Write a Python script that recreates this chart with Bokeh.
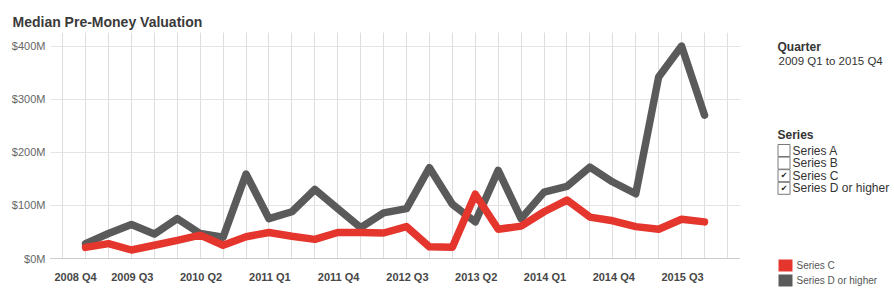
from bokeh.plotting import figure
from bokeh.models import Range1d, FixedTicker, PrintfTickFormatter, ColumnDataSource
from bokeh.embed import file_html
from bokeh.resources import INLINE
from bokeh.core.properties import value

# ---------------- data ----------------
quarters = ["2008 Q4",
            "2009 Q1", "2009 Q2", "2009 Q3", "2009 Q4",
            "2010 Q1", "2010 Q2", "2010 Q3", "2010 Q4",
            "2011 Q1", "2011 Q2", "2011 Q3", "2011 Q4",
            "2012 Q1", "2012 Q2", "2012 Q3", "2012 Q4",
            "2013 Q1", "2013 Q2", "2013 Q3", "2013 Q4",
            "2014 Q1", "2014 Q2", "2014 Q3", "2014 Q4",
            "2015 Q1", "2015 Q2", "2015 Q3"]
# Median pre-money valuation, $M
series_c = [21, 28, 16, 25, 34, 44, 25, 41, 49, 42, 36, 49, 49, 48, 60, 22,
            21, 121, 55, 61, 88, 110, 78, 71, 60, 55, 74, 69]
series_d = [28, 47, 64, 46, 75, 47, 40, 159, 75, 88, 130, 94, 58, 86, 94, 171,
            102, 69, 166, 75, 125, 136, 172, 144, 122, 342, 400, 270]
y_ticks = [0, 100, 200, 300, 400]
label_step = 3
series_names = ["Series A", "Series B", "Series C", "Series D or higher"]
series_checked = [False, False, True, True]
legend_names = ["Series C", "Series D or higher"]
quarter_filter = "2009 Q1 to 2015 Q4"
title_text = "Median Pre-Money Valuation"

RED = "#e5362e"
GRAY = "#5a5a5a"
FONT = "Liberation Sans"

# frame geometry (pixels)
W, H = 894, 301
FL, FR, FT, FB = 50, 740, 32, 258
X0, X1 = -1.53, 28.57

x = list(range(len(quarters)))
src = ColumnDataSource(dict(x=x, c=series_c, d=series_d))

p = figure(width=W, height=H, output_backend="svg", toolbar_location=None,
           x_range=Range1d(X0, X1), y_range=Range1d(0, 425.6),
           min_border_left=FL, min_border_right=W - FR, min_border_top=FT,
           min_border_bottom=H - FB)
p.outline_line_color = None
p.background_fill_color = "white"
p.border_fill_color = "white"

p.title.text = title_text
p.title.text_font = FONT
p.title.text_font_size = "14px"
p.title.text_font_style = "bold"
p.title.text_color = "#3a3a3a"
p.title.offset = -38
p.title.standoff = 5

p.line("x", "d", source=src, line_color=GRAY, line_width=7.5,
       line_join="round", line_cap="round")
p.line("x", "c", source=src, line_color=RED, line_width=7.5,
       line_join="round", line_cap="round")

# grid: one vertical line per quarter
grid_ticker = FixedTicker(ticks=x, minor_ticks=list(range(-1, len(quarters) + 1)))
p.xgrid.ticker = grid_ticker
p.xgrid.grid_line_color = "#dedede"
p.xgrid.minor_grid_line_color = "#dedede"
p.ygrid.ticker = FixedTicker(ticks=[t for t in y_ticks if t > 0])
p.ygrid.grid_line_color = "#e4e4e4"

# x labels end at their quarter (right-aligned look); first one kept inside
px_per_q = (FR - FL) / (X1 - X0)
half_w = 22.0 / px_per_q
min_center = X0 + (3.0 / px_per_q) + half_w
major = x[::label_step]
label_pos = [max(i - half_w, min_center) for i in major]
xa = p.xaxis[0]
xa.ticker = FixedTicker(ticks=label_pos, minor_ticks=[])
xa.major_label_overrides = {pos: quarters[i] for pos, i in zip(label_pos, major)}
xa.major_label_text_font = FONT
xa.major_label_text_font_size = "11px"
xa.major_label_text_font_style = "bold"
xa.major_label_text_color = "#474747"
xa.major_tick_out = 0
xa.major_tick_in = 0
xa.minor_tick_out = 0
xa.minor_tick_in = 0
xa.major_label_standoff = 12
xa.axis_line_color = "#9a9a9a"
xa.axis_line_dash = "1 1"

ya = p.yaxis[0]
ya.ticker = FixedTicker(ticks=y_ticks)
ya.formatter = PrintfTickFormatter(format="$%dM")
ya.major_label_text_font = FONT
ya.major_label_text_font_size = "11px"
ya.major_label_text_color = "#666666"
ya.axis_line_color = None
ya.major_tick_out = 0
ya.major_tick_in = 0
ya.minor_tick_out = 0
ya.minor_tick_in = 0
ya.major_label_standoff = 5

# ---------------- right-hand panel (pixel coordinates) ----------------
p.extra_x_ranges = {"px": Range1d(FL, FR)}
p.extra_y_ranges = {"py": Range1d(FB, FT)}
kw = dict(x_range_name="px", y_range_name="py", level="overlay")

p.text(x=[777], y=[46], text=["Quarter"], text_font=value(FONT),
       text_font_size="12px", text_font_style="bold", text_color="#333333",
       text_baseline="middle", **kw)
p.text(x=[778], y=[60], text=[quarter_filter], text_font=value(FONT),
       text_font_size="11.5px", text_color="#333333", text_baseline="middle", **kw)
p.text(x=[777], y=[134], text=["Series"], text_font=value(FONT),
       text_font_size="12px", text_font_style="bold", text_color="#333333",
       text_baseline="middle", **kw)

row_y = [150 + 12.6 * i for i in range(len(series_names))]
p.rect(x=[783.5] * len(series_names), y=row_y, width=12, height=12,
       fill_color="white", line_color="#7a7a7a", line_width=1, **kw)
p.text(x=[792] * len(series_names), y=row_y, text=series_names,
       text_font=value(FONT), text_font_size="12px", text_color="#333333",
       text_baseline="middle", **kw)
ck_y = [yy for yy, c in zip(row_y, series_checked) if c]
p.text(x=[783.5] * len(ck_y), y=ck_y, text=["\u2714"] * len(ck_y),
       text_font=value("DejaVu Sans"), text_font_size="8px",
       text_color="#222222", text_align="center", text_baseline="middle", **kw)

leg_y = [265, 280]
p.rect(x=[785, 785], y=leg_y, width=14, height=12, fill_color=[RED, GRAY],
       line_color=None, **kw)
p.text(x=[796, 796], y=leg_y, text=legend_names, text_font=value(FONT),
       text_font_size="10px", text_color="#555555", text_baseline="middle", **kw)

open("out.html", "w").write(file_html(p, INLINE))
